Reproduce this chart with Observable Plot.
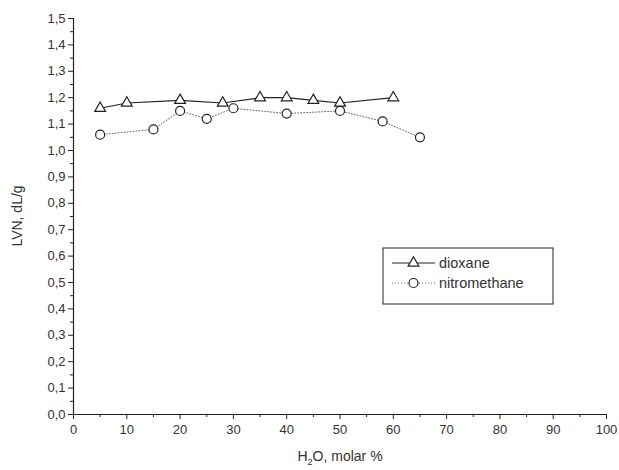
<!DOCTYPE html>
<html>
<head>
<meta charset="utf-8">
<script src="https://cdn.jsdelivr.net/npm/d3@7"></script>
<script src="https://cdn.jsdelivr.net/npm/@observablehq/plot@0.6"></script>
<style>
  html, body { margin: 0; padding: 0; background: #fff; }
  #chart svg { display: block; }
</style>
</head>
<body>
<div id="chart"></div>
<script>
// Data
const dioxaneX = [5, 10, 20, 28, 35, 40, 45, 50, 60];
const dioxaneY = [1.16, 1.18, 1.19, 1.18, 1.20, 1.20, 1.19, 1.18, 1.20];
const nitroX = [5, 15, 20, 25, 30, 40, 50, 58, 65];
const nitroY = [1.06, 1.08, 1.15, 1.12, 1.16, 1.14, 1.15, 1.11, 1.05];
const xTicks = [0, 10, 20, 30, 40, 50, 60, 70, 80, 90, 100];
const yTicks = [0, 0.1, 0.2, 0.3, 0.4, 0.5, 0.6, 0.7, 0.8, 0.9, 1.0, 1.1, 1.2, 1.3, 1.4, 1.5];
const xMinor = [5, 15, 25, 35, 45, 55, 65, 75, 85, 95];
const yMinor = [0.05, 0.15, 0.25, 0.35, 0.45, 0.55, 0.65, 0.75, 0.85, 0.95, 1.05, 1.15, 1.25, 1.35, 1.45];
const seriesNames = ["dioxane", "nitromethane"];

const dioxane = dioxaneX.map((x, i) => ({x, y: dioxaneY[i]}));
const nitro = nitroX.map((x, i) => ({x, y: nitroY[i]}));

const fmt = d => d.toFixed(1).replace(".", ",");
const textColor = "#333";

const plot = Plot.plot({
  width: 619,
  height: 470,
  marginLeft: 73,
  marginRight: 13,
  marginTop: 18,
  marginBottom: 56,
  style: {fontFamily: "'Liberation Sans', Arial, sans-serif", fontSize: "13px", color: textColor, background: "#fff"},
  x: {domain: [0, 100], label: null},
  y: {domain: [0, 1.5], label: null},
  marks: [
    Plot.axisX({ticks: xTicks, tickSize: 5, tickPadding: 5, tickFormat: d => String(d), stroke: "#222", fill: textColor, label: null}),
    Plot.axisX({ticks: xMinor, tickSize: 3, tickFormat: () => "", stroke: "#222", label: null}),
    Plot.axisY({ticks: yTicks, tickSize: 5, tickPadding: 3, tickFormat: fmt, stroke: "#222", fill: textColor, label: null}),
    Plot.axisY({ticks: yMinor, tickSize: 3, tickFormat: () => "", stroke: "#222", label: null}),
    Plot.ruleY([0], {stroke: "#222", strokeWidth: 1.2}),
    Plot.ruleX([0], {stroke: "#222", strokeWidth: 1.2}),
    Plot.line(nitro, {x: "x", y: "y", stroke: "#666", strokeWidth: 1, strokeDasharray: "1,2"}),
    Plot.line(dioxane, {x: "x", y: "y", stroke: "#222", strokeWidth: 1.2}),
    Plot.dot(nitro, {x: "x", y: "y", symbol: "circle", r: 4.5, stroke: "#222", fill: "#fff", strokeWidth: 1.2}),
    Plot.dot(dioxane, {x: "x", y: "y", symbol: "triangle", r: 4, stroke: "#222", fill: "#fff", strokeWidth: 1.2})
  ]
});

document.getElementById("chart").appendChild(plot);

const svg = d3.select(plot);
const font = "'Liberation Sans', Arial, sans-serif";

// X axis title with subscript
const xt = svg.append("text")
  .attr("x", 340).attr("y", 461)
  .attr("text-anchor", "middle")
  .attr("font-family", font).attr("font-size", 14)
  .attr("fill", textColor);
xt.append("tspan").text("H");
xt.append("tspan").attr("font-size", 9).attr("dy", 4).text("2");
xt.append("tspan").attr("dy", -4).text("O, molar %");

// Y axis title
svg.append("text")
  .attr("transform", "translate(22,216) rotate(-90)")
  .attr("text-anchor", "middle")
  .attr("font-family", font).attr("font-size", 14)
  .attr("fill", textColor)
  .text("LVN, dL/g");

// Legend
const lg = svg.append("g");
lg.append("rect").attr("x", 383).attr("y", 248).attr("width", 170).attr("height", 56)
  .attr("fill", "#fff").attr("stroke", "#222").attr("stroke-width", 1);
const rows = [
  {name: seriesNames[0], y: 263, dash: null, stroke: "#222", sym: d3.symbolTriangle, size: Math.PI * 16},
  {name: seriesNames[1], y: 283, dash: "1,2", stroke: "#666", sym: d3.symbolCircle, size: Math.PI * 4.5 * 4.5}
];
rows.forEach(r => {
  lg.append("line").attr("x1", 392).attr("x2", 435).attr("y1", r.y).attr("y2", r.y)
    .attr("stroke", r.stroke).attr("stroke-width", 1.2).attr("stroke-dasharray", r.dash);
  lg.append("path").attr("d", d3.symbol(r.sym, r.size)())
    .attr("transform", `translate(413.5,${r.y})`)
    .attr("fill", "#fff").attr("stroke", "#222").attr("stroke-width", 1.2);
  lg.append("text").attr("x", 439).attr("y", r.y).attr("dy", "0.35em")
    .attr("text-anchor", "start")
    .attr("font-family", font).attr("font-size", 14.5).attr("fill", textColor)
    .text(r.name);
});
</script>
</body>
</html>
